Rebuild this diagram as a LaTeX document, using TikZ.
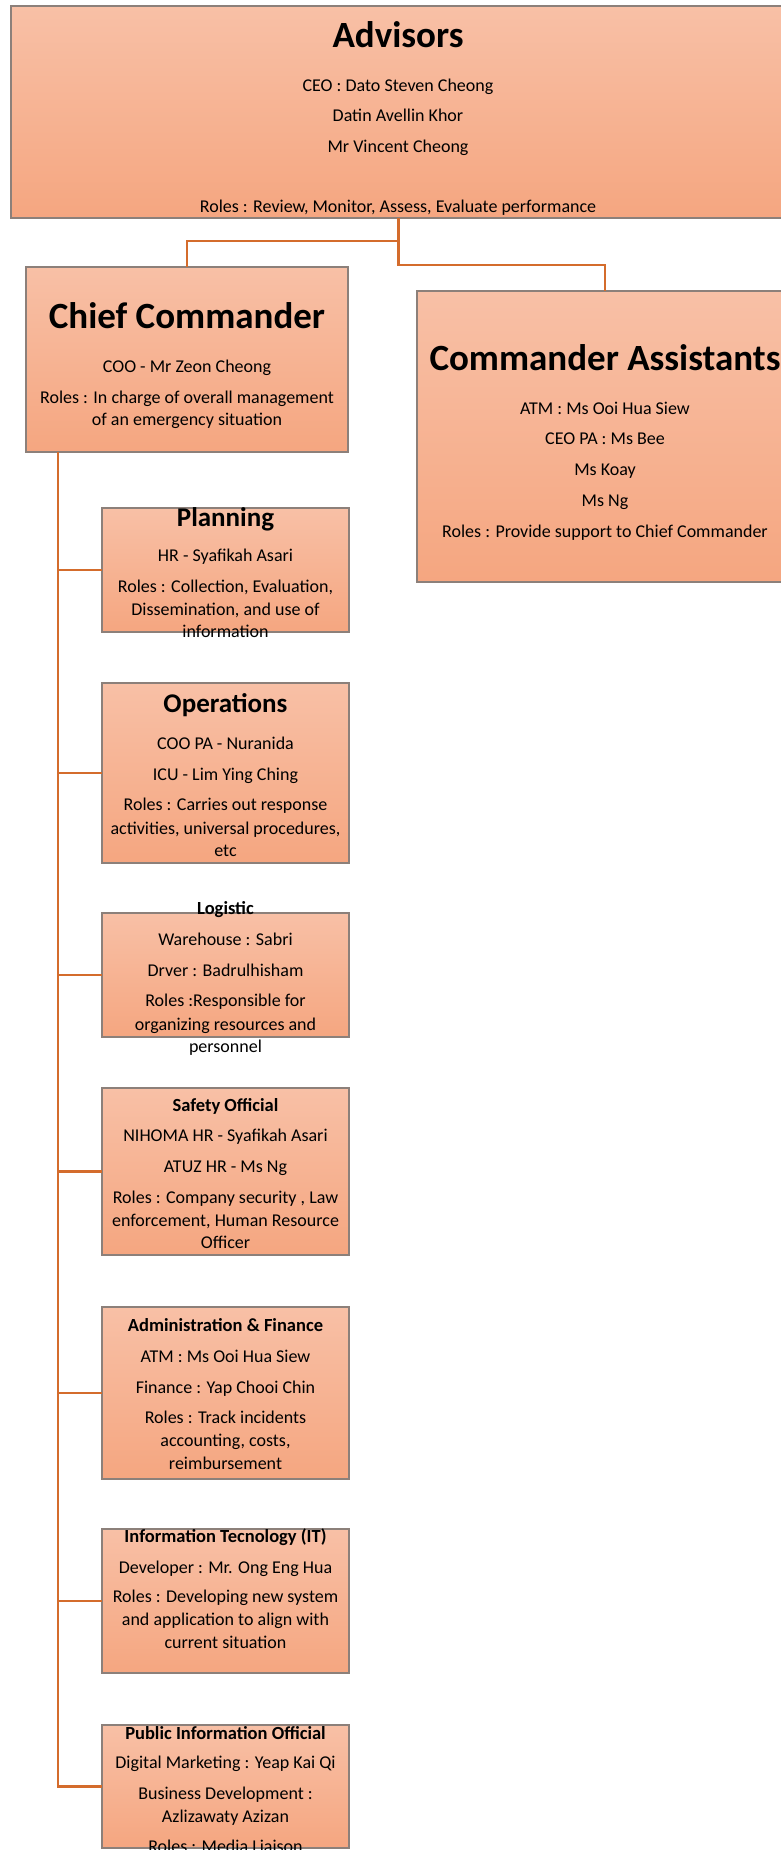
\documentclass[tikz,border=0pt]{standalone}
\usepackage{fontspec}
\setmainfont{Carlito}
\definecolor{ftop}{RGB}{248,192,166}
\definecolor{fbot}{RGB}{245,166,128}
\definecolor{bord}{RGB}{140,128,122}
\definecolor{lnk}{RGB}{212,108,44}
\tikzset{
  box/.style={draw=bord, line width=1.3pt, top color=ftop, bottom color=fbot,
    inner sep=0pt, outer sep=0pt, anchor=north west},
  conn/.style={draw=lnk, line width=2.6pt},
  txt/.style={anchor=mid, inner sep=0pt, yshift=-5.5pt, font=\fontsize{18}{22}\selectfont},
  bigt/.style={anchor=mid, inner sep=0pt, yshift=-11pt, font=\fontsize{37}{44}\selectfont\bfseries},
  midt/.style={anchor=mid, inner sep=0pt, yshift=-7pt, font=\fontsize{27}{32}\selectfont\bfseries},
  smt/.style={anchor=mid, inner sep=0pt, yshift=-5pt, font=\fontsize{18.5}{22}\selectfont\bfseries}
}
\begin{document}
\begin{tikzpicture}[x=1pt,y=-1pt]
\useasboundingbox (0,0) rectangle (780,1850);
% boxes
\node[box, minimum width=775pt, minimum height=212pt] (adv) at (11,6) {};
\node[box, minimum width=322pt, minimum height=185pt] (chief) at (26,267) {};
\node[box, minimum width=376pt, minimum height=291pt] (ca) at (417,291) {};
\node[box, minimum width=247pt, minimum height=124pt] (plan) at (102,508) {};
\node[box, minimum width=247pt, minimum height=180pt] (ops) at (102,683) {};
\node[box, minimum width=247pt, minimum height=124pt] (log) at (102,913) {};
\node[box, minimum width=247pt, minimum height=167pt] (saf) at (102,1088) {};
\node[box, minimum width=247pt, minimum height=172pt] (adm) at (102,1307) {};
\node[box, minimum width=247pt, minimum height=144pt] (it) at (102,1529) {};
\node[box, minimum width=247pt, minimum height=123pt] (pio) at (102,1725) {};
% connectors
\draw[conn] (adv.south) -- ++(0,23) -| (chief.north);
\draw[conn] (adv.south) -- ++(0,47) -| (ca.north);
\coordinate (t0) at ([xshift=32pt]chief.south west);
\draw[conn] (t0) |- (pio.west);
\draw[conn] (plan.west) -- (plan.west -| t0);
\draw[conn] (ops.west) -- (ops.west -| t0);
\draw[conn] (log.west) -- (log.west -| t0);
\draw[conn] (saf.west) -- (saf.west -| t0);
\draw[conn] (adm.west) -- (adm.west -| t0);
\draw[conn] (it.west) -- (it.west -| t0);
% Advisors
\node[bigt] (a0) at (398,34) {Advisors};
\node[txt] (a1) at (398,84) {CEO : Dato Steven Cheong};
\node[txt] (a2) at (398,114) {Datin Avellin Khor};
\node[txt] (a3) at (398,145) {Mr Vincent Cheong};
\node[txt] (a4) at (398,205) {Roles : Review, Monitor, Assess, Evaluate performance};
% Chief
\node[bigt] (c0) at (187,315) {Chief Commander};
\node[txt] (c1) at (187,365) {COO - Mr Zeon Cheong};
\node[txt] (c2) at (187,396) {Roles : In charge of overall management};
\node[txt] (c3) at (187,418) {of an emergency situation};
% Commander Assistants
\node[bigt] (d0) at (605,357) {Commander Assistants};
\node[txt] (d1) at (605,407) {ATM : Ms Ooi Hua Siew};
\node[txt] (d2) at (605,437) {CEO PA : Ms Bee};
\node[txt] (d3) at (605,468) {Ms Koay};
\node[txt] (d4) at (605,499) {Ms Ng};
\node[txt] (d5) at (605,530) {Roles : Provide support to Chief Commander};
% Planning
\node[midt] (p0) at (225.5,517) {Planning};
\node[txt] (p1) at (225.5,554) {HR - Syafikah Asari};
\node[txt] (p2) at (225.5,585) {Roles : Collection, Evaluation,};
\node[txt] (p3) at (225.5,608) {Dissemination, and use of};
\node[txt] (p4) at (225.5,630) {information};
% Operations
\node[midt] (o0) at (225.5,703) {Operations};
\node[txt] (o1) at (225.5,742) {COO PA - Nuranida};
\node[txt] (o2) at (225.5,773) {ICU - Lim Ying Ching};
\node[txt] (o3) at (225.5,803) {Roles : Carries out response};
\node[txt] (o4) at (225.5,827) {activities, universal procedures,};
\node[txt] (o5) at (225.5,849) {etc};
% Logistic
\node[smt] (l0) at (225.5,907) {Logistic};
\node[txt] (l1) at (225.5,938) {Warehouse : Sabri};
\node[txt] (l2) at (225.5,969) {Drver : Badrulhisham};
\node[txt] (l3) at (225.5,999) {Roles :Responsible for};
\node[txt] (l4) at (225.5,1023) {organizing resources and};
\node[txt] (l5) at (225.5,1045) {personnel};
% Safety
\node[smt] (s0) at (225.5,1104) {Safety Official};
\node[txt] (s1) at (225.5,1134) {NIHOMA HR - Syafikah Asari};
\node[txt] (s2) at (225.5,1165) {ATUZ HR - Ms Ng};
\node[txt] (s3) at (225.5,1196) {Roles : Company security , Law};
\node[txt] (s4) at (225.5,1219) {enforcement, Human Resource};
\node[txt] (s5) at (225.5,1241) {Officer};
% Admin
\node[smt] (m0) at (225.5,1324) {Administration \& Finance};
\node[txt] (m1) at (225.5,1355) {ATM : Ms Ooi Hua Siew};
\node[txt] (m2) at (225.5,1386) {Finance : Yap Chooi Chin};
\node[txt] (m3) at (225.5,1416) {Roles : Track incidents};
\node[txt] (m4) at (225.5,1439) {accounting, costs,};
\node[txt] (m5) at (225.5,1462) {reimbursement};
% IT
\node[smt] (i0) at (225.5,1535) {Information Tecnology (IT)};
\node[txt] (i1) at (225.5,1566) {Developer : Mr. Ong Eng Hua};
\node[txt] (i2) at (225.5,1595) {Roles : Developing new system};
\node[txt] (i3) at (225.5,1618) {and application to align with};
\node[txt] (i4) at (225.5,1641) {current situation};
% Public Information
\node[smt] (u0) at (225.5,1732) {Public Information Official};
\node[txt] (u1) at (225.5,1761) {Digital Marketing : Yeap Kai Qi};
\node[txt] (u2) at (225.5,1792) {Business Development :};
\node[txt] (u3) at (225.5,1815) {Azlizawaty Azizan};
\node[txt] (u4) at (225.5,1845) {Roles : Media Liaison};
\end{tikzpicture}
\end{document}
